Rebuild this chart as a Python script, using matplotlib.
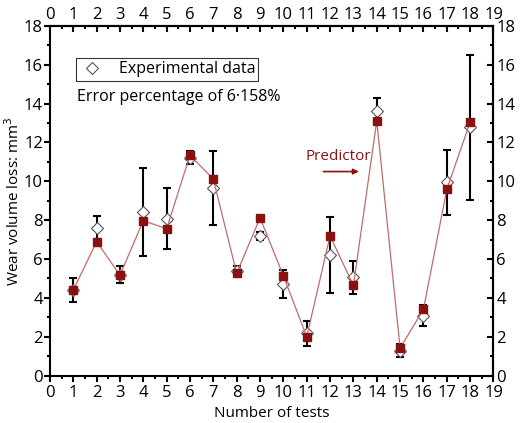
import numpy as np
import matplotlib.pyplot as plt

plt.rcParams['font.family'] = ['Open Sans', 'DejaVu Sans']

tests = list(range(1, 19))
experimental = [4.40, 7.62, 5.20, 8.40, 8.08, 11.22, 9.65, 5.38, 7.18, 4.71,
                2.18, 6.22, 5.05, 13.62, 1.29, 3.09, 9.95, 12.77]
exp_error = [0.60, 0.60, 0.45, 2.27, 1.57, 0.32, 1.90, 0.26, 0.22, 0.70,
             0.64, 1.96, 0.84, 0.68, 0.32, 0.55, 1.68, 3.75]
predicted = [4.40, 6.89, 5.17, 7.97, 7.56, 11.34, 10.11, 5.26, 8.12, 5.14,
             2.00, 7.19, 4.64, 13.10, 1.41, 3.41, 9.58, 13.05]

fig = plt.figure(figsize=(5.2, 4.23), dpi=100)
ax = fig.add_axes([0.096, 0.112, 0.853, 0.827])

# experimental data with error bars
ax.errorbar(tests, experimental, yerr=exp_error, fmt='none', ecolor='black',
            elinewidth=1.5, capsize=3, capthick=1.5, zorder=2)
ax.plot(tests, experimental, linestyle='none', marker='D', markersize=6.3,
        markerfacecolor='white', markeredgecolor='#555555', markeredgewidth=0.8,
        label='Experimental data', zorder=3)

# predictor
ax.plot(tests, predicted, color='#c46a6a', linewidth=0.9, marker='s',
        markersize=5.8, markerfacecolor='#8b1111', markeredgecolor='#8b1111',
        zorder=4)

ax.set_xlim(0, 19)
ax.set_ylim(0, 18)
ax.set_xticks(range(0, 20))
ax.set_yticks(range(0, 19, 2))
ax.set_xticks(np.arange(0.5, 19, 1), minor=True)
ax.set_yticks(range(1, 18, 2), minor=True)
ax.tick_params(which='major', direction='out', length=4, width=1.5, labelsize=12, pad=1)
ax.tick_params(axis='x', which='major', pad=3)
ax.tick_params(which='minor', direction='out', length=2.5, width=1.5)
for s in ax.spines.values():
    s.set_linewidth(1.5)

# top and right axes mirror the scales
axt = ax.secondary_xaxis('top')
axt.set_xticks(range(0, 20))
axt.set_xticks(np.arange(0.5, 19, 1), minor=True)
axt.tick_params(which='major', direction='in', length=4, width=1.5, labelsize=12, pad=2)
axt.tick_params(which='minor', direction='in', length=2.5, width=1.5)
axt.spines['top'].set_linewidth(1.5)
axr = ax.secondary_yaxis('right')
axr.set_yticks(range(0, 19, 2))
axr.set_yticks(range(1, 18, 2), minor=True)
axr.tick_params(which='major', direction='in', length=4, width=1.5, labelsize=12, pad=2)
axr.tick_params(which='minor', direction='in', length=2.5, width=1.5)
axr.spines['right'].set_linewidth(1.5)

ax.set_xlabel('Number of tests', fontsize=11, labelpad=3)
ax.set_ylabel('Wear volume loss: mm$^3$', fontsize=11, labelpad=1)

leg = ax.legend(loc='upper left', bbox_to_anchor=(0.04, 0.93), fontsize=11.5,
                frameon=True, fancybox=False, edgecolor='black',
                handletextpad=0.9, borderpad=0.2, handlelength=1.6)
leg.get_frame().set_linewidth(0.8)

ax.text(0.062, 0.797, 'Error percentage of 6\u00b7158%', transform=ax.transAxes,
        fontsize=11.5, va='center', ha='left')

ax.text(10.95, 11.25, 'Predictor', color='#8b1111', fontsize=11,
        va='center', ha='left')
ax.annotate('', xy=(13.35, 10.5), xytext=(11.6, 10.5),
            arrowprops=dict(arrowstyle='-|>', color='#8b1111', lw=1.2,
                            mutation_scale=8))

fig.savefig('out.png', dpi=100)
